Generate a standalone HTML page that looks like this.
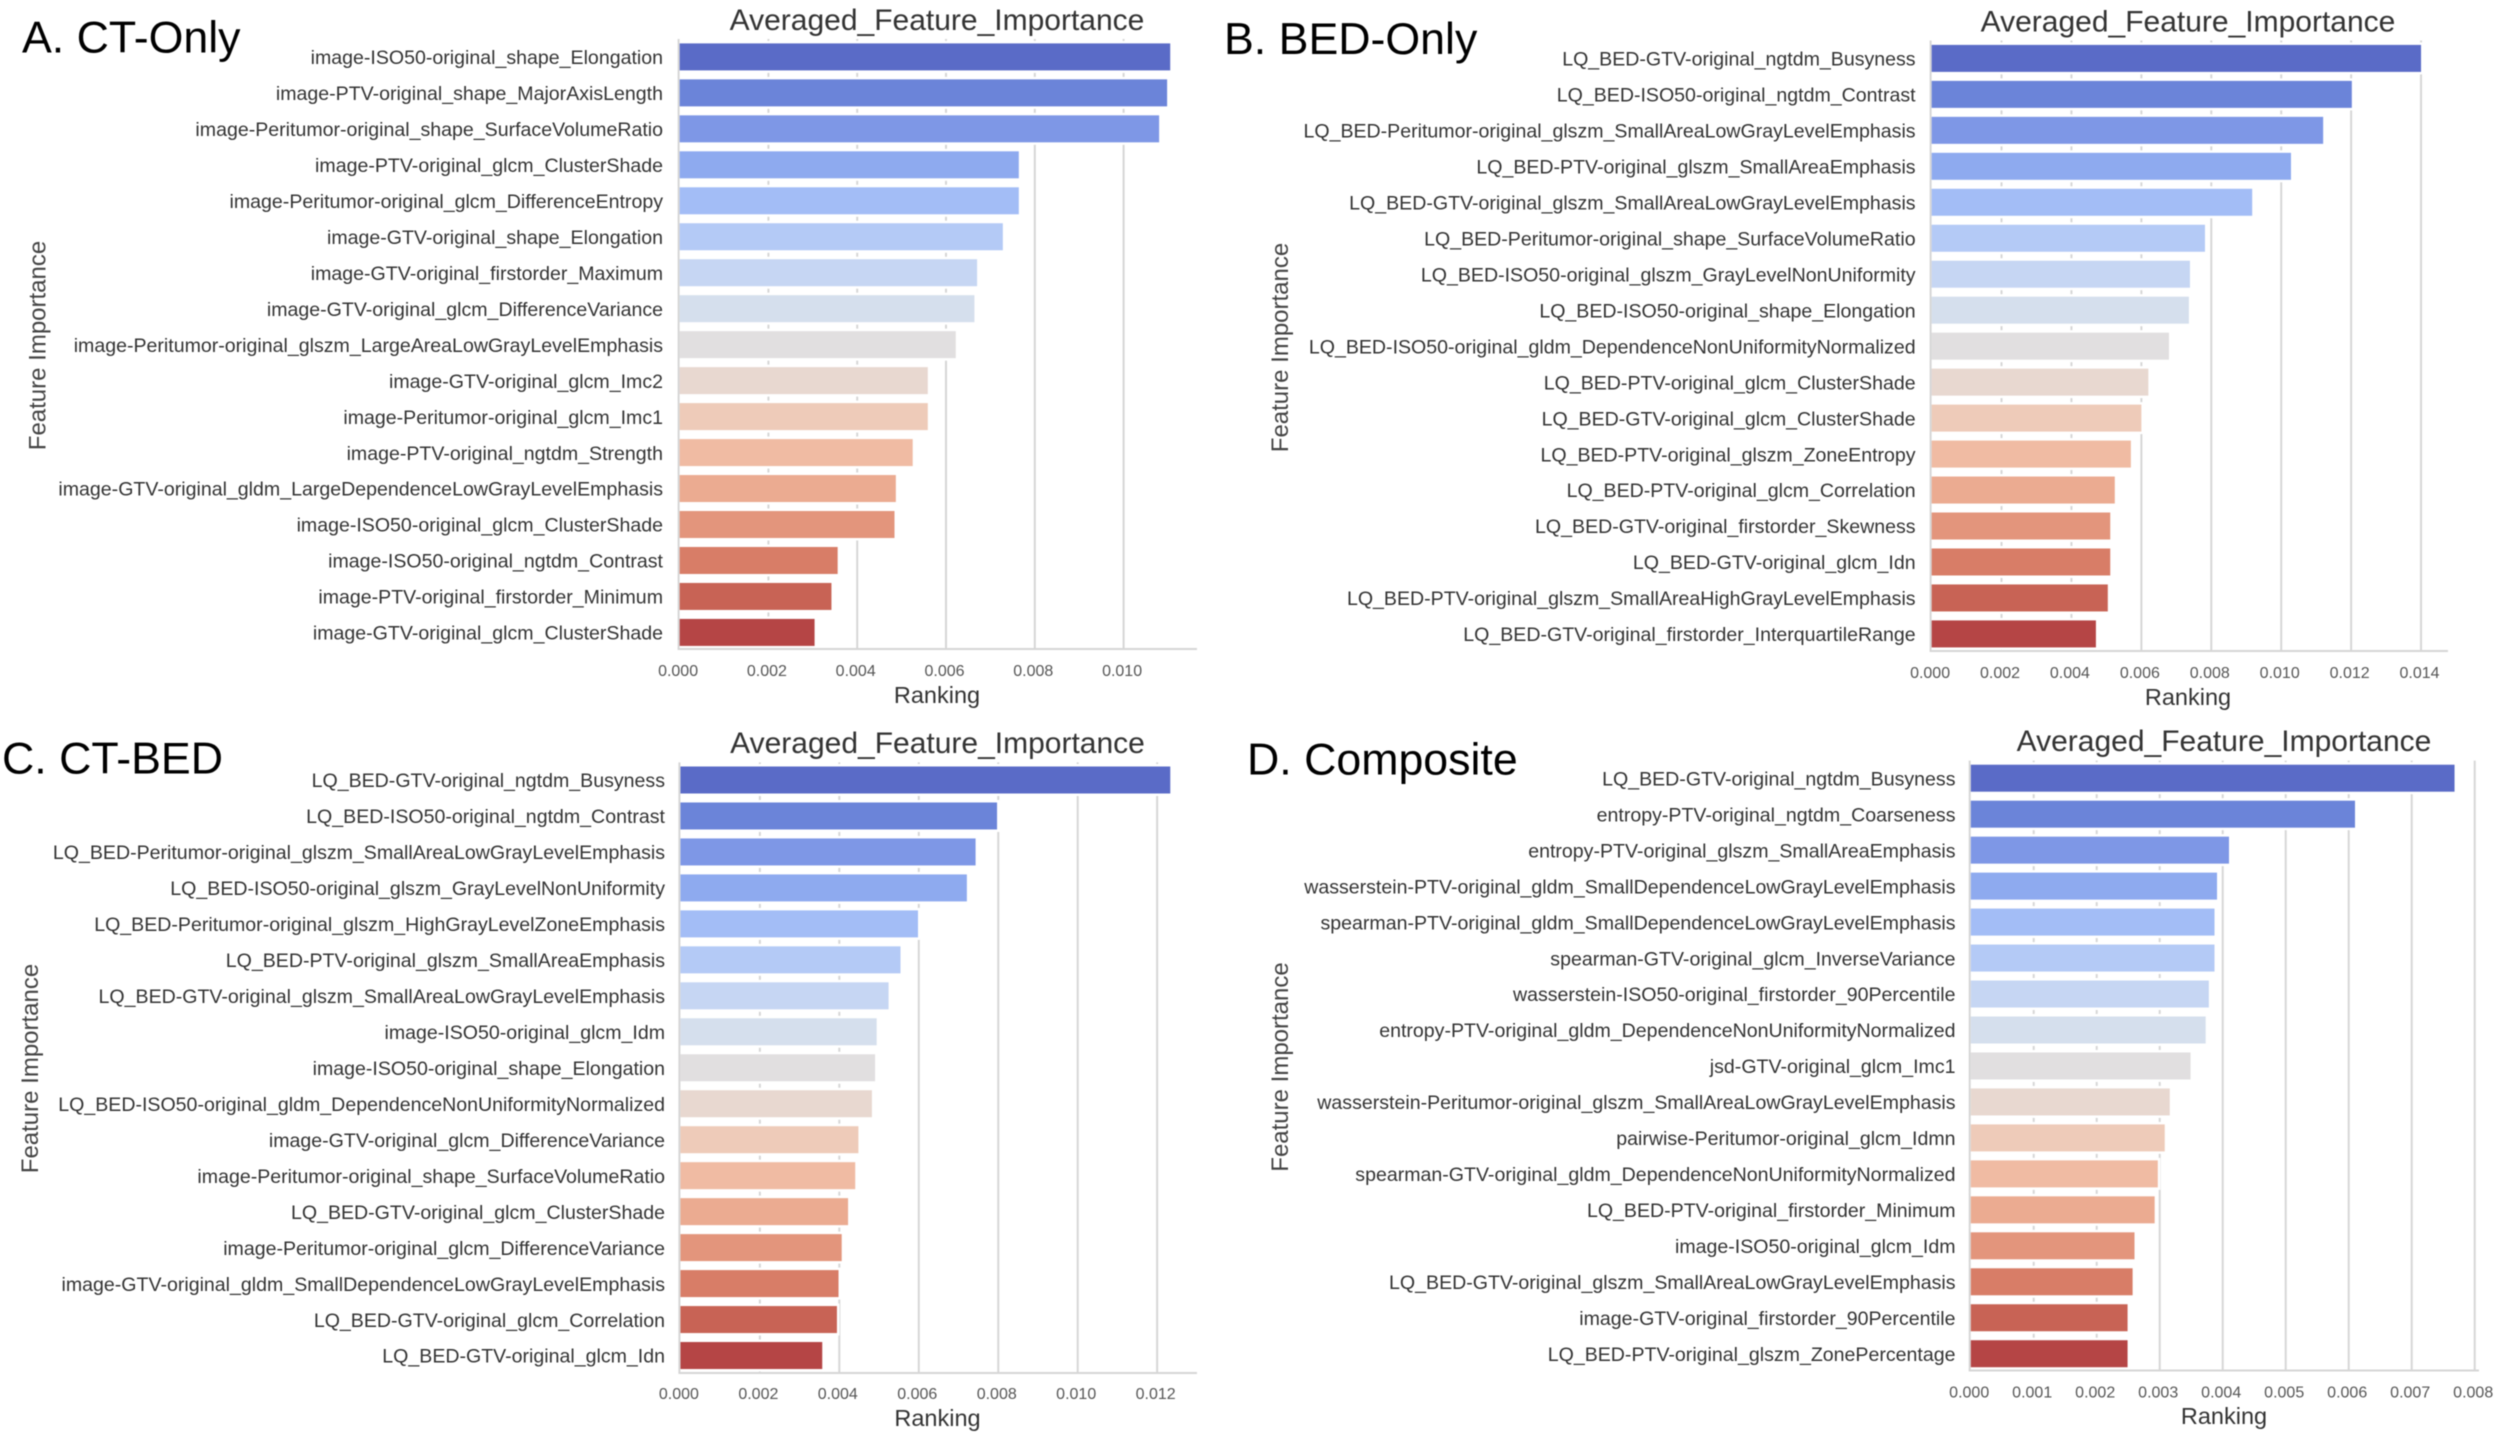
<!DOCTYPE html>
<html lang="en">
<head>
<meta charset="utf-8">
<title>Averaged Feature Importance</title>
<style>
html,body{margin:0;padding:0;background:#fff;width:2500px;height:1436px;overflow:hidden}
svg{display:block;filter:blur(.5px)}
text{font-family:"Liberation Sans",Arial,sans-serif}
</style>
</head>
<body>
<svg id="chart" xmlns="http://www.w3.org/2000/svg" width="2500" height="1436" viewBox="0 0 2500 1436"></svg>
<script>
const namesA = ["image-ISO50-original_shape_Elongation","image-PTV-original_shape_MajorAxisLength","image-Peritumor-original_shape_SurfaceVolumeRatio","image-PTV-original_glcm_ClusterShade","image-Peritumor-original_glcm_DifferenceEntropy","image-GTV-original_shape_Elongation","image-GTV-original_firstorder_Maximum","image-GTV-original_glcm_DifferenceVariance","image-Peritumor-original_glszm_LargeAreaLowGrayLevelEmphasis","image-GTV-original_glcm_Imc2","image-Peritumor-original_glcm_Imc1","image-PTV-original_ngtdm_Strength","image-GTV-original_gldm_LargeDependenceLowGrayLevelEmphasis","image-ISO50-original_glcm_ClusterShade","image-ISO50-original_ngtdm_Contrast","image-PTV-original_firstorder_Minimum","image-GTV-original_glcm_ClusterShade"];
const valuesA = [0.01105,0.01098,0.0108,0.00764,0.00764,0.00728,0.0067,0.00664,0.00622,0.00559,0.00559,0.00525,0.00487,0.00484,0.00356,0.00342,0.00304];
const ticksA = ["0.000","0.002","0.004","0.006","0.008","0.010"];

const namesB = ["LQ_BED-GTV-original_ngtdm_Busyness","LQ_BED-ISO50-original_ngtdm_Contrast","LQ_BED-Peritumor-original_glszm_SmallAreaLowGrayLevelEmphasis","LQ_BED-PTV-original_glszm_SmallAreaEmphasis","LQ_BED-GTV-original_glszm_SmallAreaLowGrayLevelEmphasis","LQ_BED-Peritumor-original_shape_SurfaceVolumeRatio","LQ_BED-ISO50-original_glszm_GrayLevelNonUniformity","LQ_BED-ISO50-original_shape_Elongation","LQ_BED-ISO50-original_gldm_DependenceNonUniformityNormalized","LQ_BED-PTV-original_glcm_ClusterShade","LQ_BED-GTV-original_glcm_ClusterShade","LQ_BED-PTV-original_glszm_ZoneEntropy","LQ_BED-PTV-original_glcm_Correlation","LQ_BED-GTV-original_firstorder_Skewness","LQ_BED-GTV-original_glcm_Idn","LQ_BED-PTV-original_glszm_SmallAreaHighGrayLevelEmphasis","LQ_BED-GTV-original_firstorder_InterquartileRange"];
const valuesB = [0.0140,0.01202,0.0112,0.01028,0.00917,0.00782,0.00739,0.00736,0.00679,0.0062,0.006,0.0057,0.00524,0.00511,0.00511,0.00504,0.0047];
const ticksB = ["0.000","0.002","0.004","0.006","0.008","0.010","0.012","0.014"];

const namesC = ["LQ_BED-GTV-original_ngtdm_Busyness","LQ_BED-ISO50-original_ngtdm_Contrast","LQ_BED-Peritumor-original_glszm_SmallAreaLowGrayLevelEmphasis","LQ_BED-ISO50-original_glszm_GrayLevelNonUniformity","LQ_BED-Peritumor-original_glszm_HighGrayLevelZoneEmphasis","LQ_BED-PTV-original_glszm_SmallAreaEmphasis","LQ_BED-GTV-original_glszm_SmallAreaLowGrayLevelEmphasis","image-ISO50-original_glcm_Idm","image-ISO50-original_shape_Elongation","LQ_BED-ISO50-original_gldm_DependenceNonUniformityNormalized","image-GTV-original_glcm_DifferenceVariance","image-Peritumor-original_shape_SurfaceVolumeRatio","LQ_BED-GTV-original_glcm_ClusterShade","image-Peritumor-original_glcm_DifferenceVariance","image-GTV-original_gldm_SmallDependenceLowGrayLevelEmphasis","LQ_BED-GTV-original_glcm_Correlation","LQ_BED-GTV-original_glcm_Idn"];
const valuesC = [0.01233,0.00797,0.00743,0.00721,0.00598,0.00554,0.00524,0.00494,0.0049,0.00482,0.00448,0.0044,0.00422,0.00406,0.00398,0.00394,0.00357];
const ticksC = ["0.000","0.002","0.004","0.006","0.008","0.010","0.012"];

const namesD = ["LQ_BED-GTV-original_ngtdm_Busyness","entropy-PTV-original_ngtdm_Coarseness","entropy-PTV-original_glszm_SmallAreaEmphasis","wasserstein-PTV-original_gldm_SmallDependenceLowGrayLevelEmphasis","spearman-PTV-original_gldm_SmallDependenceLowGrayLevelEmphasis","spearman-GTV-original_glcm_InverseVariance","wasserstein-ISO50-original_firstorder_90Percentile","entropy-PTV-original_gldm_DependenceNonUniformityNormalized","jsd-GTV-original_glcm_Imc1","wasserstein-Peritumor-original_glszm_SmallAreaLowGrayLevelEmphasis","pairwise-Peritumor-original_glcm_Idmn","spearman-GTV-original_gldm_DependenceNonUniformityNormalized","LQ_BED-PTV-original_firstorder_Minimum","image-ISO50-original_glcm_Idm","LQ_BED-GTV-original_glszm_SmallAreaLowGrayLevelEmphasis","image-GTV-original_firstorder_90Percentile","LQ_BED-PTV-original_glszm_ZonePercentage"];
const valuesD = [0.00768,0.0061,0.0041,0.00391,0.00387,0.00387,0.00378,0.00373,0.00349,0.00316,0.00308,0.00297,0.00292,0.0026,0.00257,0.00249,0.00249];
const ticksD = ["0.000","0.001","0.002","0.003","0.004","0.005","0.006","0.007","0.008"];

const chartTitle = "Averaged_Feature_Importance";
const xAxisTitle = "Ranking";
const yAxisTitle = "Feature Importance";

const palette = ["#5a6bc7","#6b84d9","#7e97e6","#8eaaef","#a3bdf6","#b4caf6","#c6d6f3","#d5dfed","#e1dfe0","#e8d8d0","#eecbb9","#f0bba3","#ebab91","#e3957c","#d87d67","#c86355","#b54545"];

const panels = [
  {key:"a",heading:"A. CT-Only",hx:22,hy:37,names:namesA,values:valuesA,ticks:ticksA,x0:679.6,unit:44400,right:1197,top:39,bottom:649,firstCenter:56.9,labelRight:663,tickY:670,titleX:937,titleY:20,rankY:695,yLabelX:37.5,yLabelY:345.5},
  {key:"b",heading:"B. BED-Only",hx:1224,hy:38.5,names:namesB,values:valuesB,ticks:ticksB,x0:1931.6,unit:34960,right:2448,top:40.5,bottom:651,firstCenter:58.4,labelRight:1915.6,tickY:672,titleX:2188,titleY:21.5,rankY:697,yLabelX:1280,yLabelY:347.5},
  {key:"c",heading:"C. CT-BED",hx:2,hy:758,names:namesC,values:valuesC,ticks:ticksC,x0:680.4,unit:39730,right:1197,top:762.4,bottom:1373,firstCenter:780,labelRight:665,tickY:1393,titleX:937.5,titleY:743,rankY:1418,yLabelX:30,yLabelY:1068.5},
  {key:"d",heading:"D. Composite",hx:1247,hy:759,names:namesD,values:valuesD,ticks:ticksD,x0:1970.7,unit:63000,right:2479,top:760.6,bottom:1370.5,firstCenter:778.2,labelRight:1955.5,tickY:1391.5,titleX:2224,titleY:741,rankY:1416,yLabelX:1280,yLabelY:1067}
];

const svg = document.getElementById("chart");
const NS = "http://www.w3.org/2000/svg";
function make(parent, tag, attrs, txt) {
  const el = document.createElementNS(NS, tag);
  for (const k in attrs) el.setAttribute(k, attrs[k]);
  if (txt !== undefined) el.textContent = txt;
  parent.appendChild(el);
  return el;
}
const GRID = "#d6d6d6";
const BAR_H = 27;
const BAND = 35.97;

panels.forEach(function (p) {
  const xScale = function (v) { return p.x0 + v * p.unit; };
  const yScale = function (i) { return p.firstCenter + i * BAND; };
  const g = make(svg, "g", {});
  
  

  const heading = make(g, "text", {x:p.hx, y:p.hy + 15.5, "font-size":44.7, fill:"#000"}, p.heading);
  
  

  p.ticks.forEach(function (t) {
    const v = parseFloat(t);
    const x = xScale(v);
    if (v > 0) {
      const line = make(g, "line", {x1:x, x2:x, y1:p.top, y2:p.bottom, stroke:GRID, "stroke-width":2});
      
      
    }
    const label = make(g, "text", {x:x - 1.5, y:p.tickY + 6, "font-size":16, fill:"#555", "text-anchor":"middle"}, t);
    
    
  });

  p.values.forEach(function (v, i) {
    const cy = yScale(i);
    const bar = make(g, "rect", {x:p.x0, y:cy - BAR_H / 2, width:xScale(v) - p.x0, height:BAR_H, fill:palette[i], stroke:"#fff", "stroke-width":5, "paint-order":"stroke"});
    
    
    const label = make(g, "text", {x:p.labelRight, y:cy + 7.2, "font-size":19.57, fill:"#333", "text-anchor":"end"}, p.names[i]);
    
    
  });

  const leftSpine = make(g, "line", {x1:p.x0 - 1, x2:p.x0 - 1, y1:p.top, y2:p.bottom, stroke:GRID, "stroke-width":2});
  
  
  const bottomSpine = make(g, "line", {x1:p.x0 - 2, x2:p.right, y1:p.bottom, y2:p.bottom, stroke:GRID, "stroke-width":2});
  
  

  const title = make(g, "text", {x:p.titleX, y:p.titleY + 10, "font-size":30, fill:"#333", "text-anchor":"middle"}, chartTitle);
  
  
  const rank = make(g, "text", {x:p.titleX, y:p.rankY + 8, "font-size":23.5, fill:"#333", "text-anchor":"middle"}, xAxisTitle);
  
  
  const yTitle = make(g, "text", {x:0, y:0, "font-size":24, fill:"#444", "text-anchor":"middle", transform:"translate(" + (p.yLabelX + 8) + " " + p.yLabelY + ") rotate(-90)"}, yAxisTitle);
  
  
});
</script>
</body>
</html>
